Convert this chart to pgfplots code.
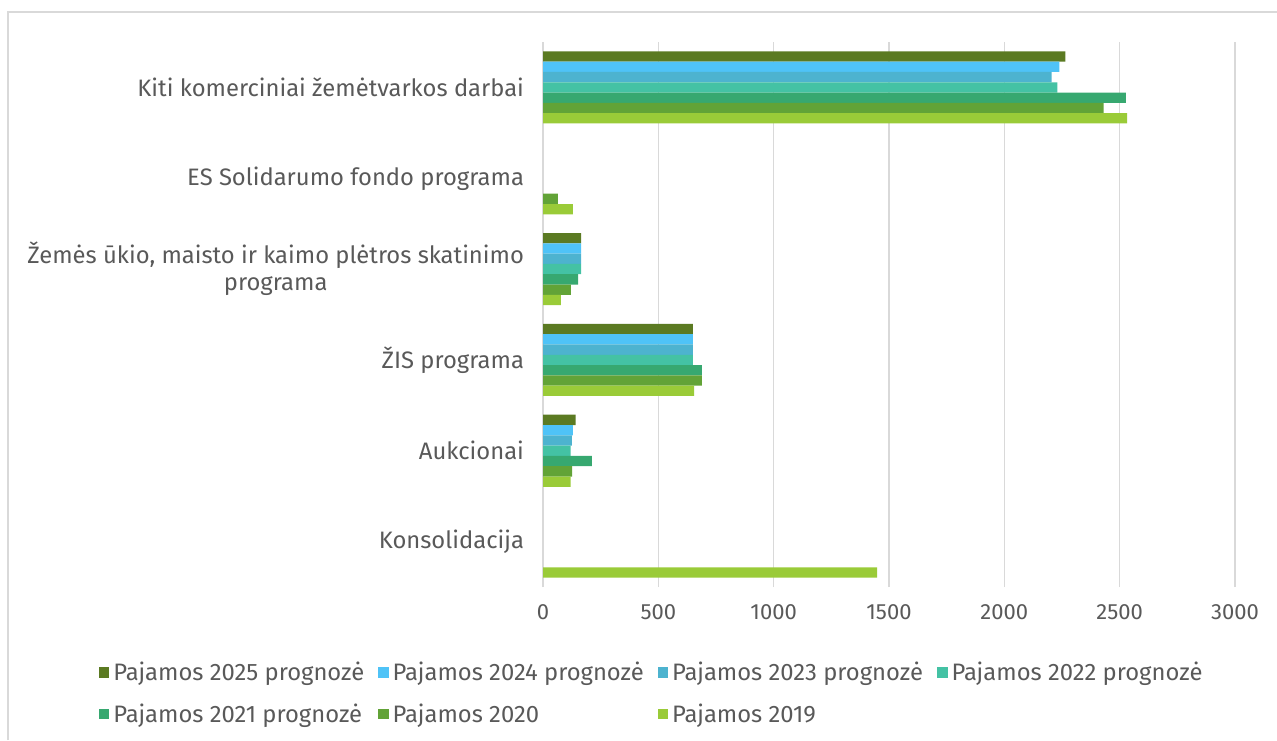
\documentclass[border=0pt]{standalone}
\usepackage{pgfplots}
\pgfplotsset{compat=1.18}
\usepackage{fontspec}
\setmainfont{Fira Sans}
\definecolor{c25}{HTML}{5B7A22}
\definecolor{c24}{HTML}{4FC3F7}
\definecolor{c23}{HTML}{4DB3CF}
\definecolor{c22}{HTML}{44C2A4}
\definecolor{c21}{HTML}{37A870}
\definecolor{c20}{HTML}{62A337}
\definecolor{c19}{HTML}{9ACB38}
\definecolor{txt}{HTML}{595959}
\definecolor{grd}{HTML}{D9D9D9}
\begin{document}
\begin{tikzpicture}
\useasboundingbox (0,0) rectangle (638.5pt,370pt);
\draw[grd, line width=1pt] (4pt,0) -- (4pt,364pt) -- (638.5pt,364pt);
\begin{axis}[
  at={(271.5pt,76.5pt)}, anchor=south west,
  scale only axis, width=346pt, height=272.5pt,
  xbar, bar width=5.15pt,
  xmin=0, xmax=3000, ymin=-0.5, ymax=5.5,
  xtick={0,500,...,3000},
  ytick={0,1,2,3,4,5},
  yticklabels={Konsolidacija, Aukcionai, ŽIS programa, {Žemės ūkio, maisto ir kaimo plėtros skatinimo\\programa}, ES Solidarumo fondo programa, Kiti komerciniai žemėtvarkos darbai},
  yticklabel style={align=center, font=\fontsize{11.9}{13.5}\selectfont, text=txt, xshift=-6pt},
  xticklabel style={font=\fontsize{11}{13}\selectfont, text=txt, yshift=-5pt},
  /pgf/number format/assume math mode=true,
  /pgf/number format/1000 sep={},
  major tick length=0pt,
  axis line style={draw=none},
  xmajorgrids, grid style={grd, line width=0.6pt},
  legend columns=4,
  legend style={at={(-0.651,-0.122)}, anchor=north west, draw=none, fill=none,
    font=\fontsize{11.9}{13}\selectfont, text=txt,
    /tikz/every even column/.append style={column sep=0pt},
    row sep=6pt},
  legend cell align=left,
  legend image code/.code={\fill[#1] (0pt,-2.6pt) rectangle (5.2pt,2.6pt);},
]
\addplot[fill=c25, draw=none, bar shift=15.45pt] coordinates {(2265,5) (165,3) (650,2) (141,1)};
\addlegendentry{\makebox[130.5pt][l]{Pajamos 2025 prognozė}}
\addplot[fill=c24, draw=none, bar shift=10.3pt] coordinates {(2239,5) (165,3) (650,2) (130,1)};
\addlegendentry{\makebox[130.5pt][l]{Pajamos 2024 prognozė}}
\addplot[fill=c23, draw=none, bar shift=5.15pt] coordinates {(2205,5) (165,3) (650,2) (125,1)};
\addlegendentry{\makebox[130.5pt][l]{Pajamos 2023 prognozė}}
\addplot[fill=c22, draw=none, bar shift=0pt] coordinates {(2230,5) (165,3) (650,2) (120,1)};
\addlegendentry{\makebox[130.5pt][l]{Pajamos 2022 prognozė}}
\addplot[fill=c21, draw=none, bar shift=-5.15pt] coordinates {(2527,5) (152,3) (689,2) (212,1)};
\addlegendentry{\makebox[130.5pt][l]{Pajamos 2021 prognozė}}
\addplot[fill=c20, draw=none, bar shift=-10.3pt] coordinates {(2430,5) (65,4) (121,3) (689,2) (126,1)};
\addlegendentry{\makebox[130.5pt][l]{Pajamos 2020}}
\addplot[fill=c19, draw=none, bar shift=-15.45pt] coordinates {(2532,5) (130,4) (78,3) (655,2) (120,1) (1448,0)};
\addlegendentry{\makebox[130.5pt][l]{Pajamos 2019}}
\end{axis}
\end{tikzpicture}
\end{document}
